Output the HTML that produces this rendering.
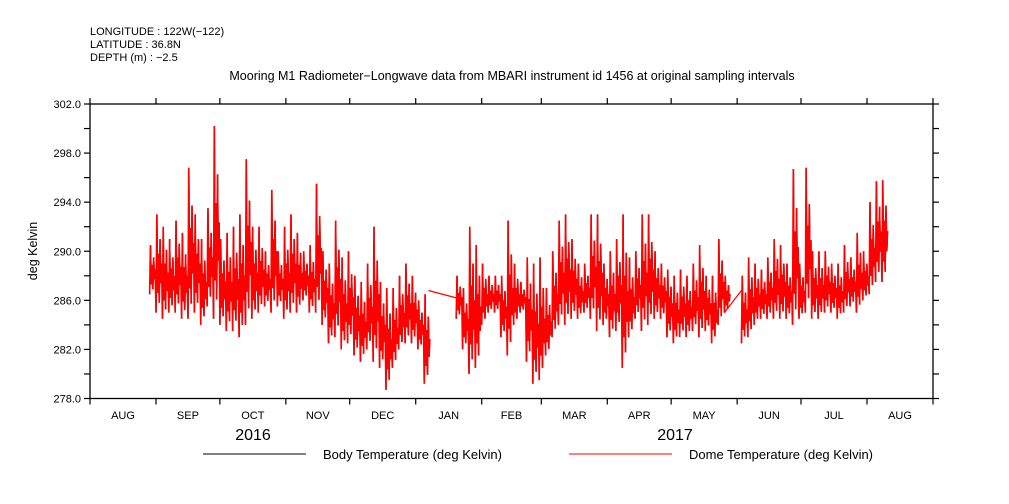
<!DOCTYPE html>
<html><head><meta charset="utf-8"><style>
body{margin:0;background:#fff;}
svg{display:block;font-family:"Liberation Sans",sans-serif;}
</style></head><body>
<svg id="chart" width="1009" height="504">
<text x="90" y="35" font-size="11">LONGITUDE : 122W(−122)</text>
<text x="90" y="48" font-size="11">LATITUDE : 36.8N</text>
<text x="90" y="61" font-size="11">DEPTH (m) : −2.5</text>
<text x="512" y="80" font-size="12.5" text-anchor="middle">Mooring M1 Radiometer−Longwave data from MBARI instrument id 1456 at original sampling intervals</text>
<text transform="translate(37,251) rotate(-90)" font-size="12.5" text-anchor="middle">deg Kelvin</text>
<g id="axes"></g>
<g id="series"></g>
<rect x="90" y="104" width="843" height="294.5" fill="none" stroke="#000" stroke-width="1.3"/>
<text x="253" y="440" font-size="16" text-anchor="middle">2016</text>
<text x="675" y="440" font-size="16" text-anchor="middle">2017</text>
<line x1="203" y1="454" x2="306" y2="454" stroke="#000" stroke-width="1"/>
<text x="323" y="459" font-size="13">Body Temperature (deg Kelvin)</text>
<line x1="569" y1="454" x2="672" y2="454" stroke="#f00" stroke-width="1"/>
<text x="689" y="459" font-size="13">Dome Temperature (deg Kelvin)</text>
</svg>
<script>
const yTicks=[278,280,282,284,286,288,290,292,294,296,298,300,302];
const monthLabels=["AUG","SEP","OCT","NOV","DEC","JAN","FEB","MAR","APR","MAY","JUN","JUL","AUG"];
const monthStarts=[0,31,61,92,122,153,184,212,243,273,304,334,365,396];
const seg1Days=[28,31,34,37,40,43,46,49,52,55,58,61,64,67,70,73,76,79,82,85,88,91,94,97,100,103,106,109,112,115,118,121,124,127,130,133,136,139,142,145,148,151,154,157];
const seg1Hi=[290.5,293,292,291,292.5,291.5,296.8,293,291,293.5,300.2,291,291.5,292,293,297.5,292,292,290,295,290,292,293,291.5,290,290.5,295.5,290,289,292.5,289.5,290,288,287.5,289,292,287.5,287,287,288,289,288,286,286.5];
const seg1Lo=[286.5,285,284.5,285,285,284.5,284.5,285,284,285.5,284.5,284,283.5,283.5,283,284,284.5,285,285.5,285,285.5,284.5,285,285,286,285,285,284,282.5,283,282,282.5,281.5,281,282,281,280.5,278.7,280.5,282,282.5,282.5,282,279.2];
const seg2Days=[172,175,178,181,184,187,190,193,196,199,202,205,208,211,214,217,220,223,226,229,232,235,238,241,244,247,250,253,256,259,262,265,268,271,274,277,280,283,286,289,292,295,298];
const seg2Hi=[288,287,292,290.5,289,288,288,288,292.5,289,287.5,289.5,289,289.5,287,290,292.5,293,291,289,289,293,293,289,290,291,293,289.5,290,293,293,290,289,288.5,288,288.5,288,289,290.5,288,288,291,288];
const seg2Lo=[284.5,282,280,280.5,284,285,285,283,281.5,284,285,281,279.2,279.5,281.5,283,284,284,284.5,284.5,285,284.5,283.5,284,283,283.5,280.5,283,284.5,283.5,284,284.5,284.5,283,282.5,283,283,283.5,283,283.5,282.5,284,285];
const seg3Days=[306,309,312,315,318,321,324,327,330,333,336,339,342,345,348,351,354,357,360,363,366,369,372];
const seg3Hi=[288,289.5,289,288.5,289.5,291,290.5,289,296.7,289,296.8,290,290,290,289,289,290.5,289.5,291.5,290,294,295.7,295.8];
const seg3Lo=[282.5,283,284,284.5,284.5,284.5,284.5,284.5,284,284.5,285,284.5,284.5,285,285,284.5,285,285.5,285,286,286.5,287.5,287.5];
const gapLinks=[[159,286.8,172,286.2],[298,285,306,286.8]];

const NS="http://www.w3.org/2000/svg";
const X0=90,X1=933,Y0=398.5,Y1=104,DMAX=396,TMIN=278,TMAX=302;
const xS=d=>X0+d*(X1-X0)/DMAX;
const yS=t=>Y0-(t-TMIN)*(Y0-Y1)/(TMAX-TMIN);
function mk(tag,attrs,parent){const e=document.createElementNS(NS,tag);for(const k in attrs)e.setAttribute(k,attrs[k]);parent.appendChild(e);return e;}
const axes=document.getElementById('axes');
yTicks.forEach((t,i)=>{
  const y=yS(t);
  const l=mk('line',{x1:X0-6,y1:y,x2:X0,y2:y,stroke:'#000','stroke-width':1.2},axes);
  
  
  const r=mk('line',{x1:X1,y1:y,x2:X1+6,y2:y,stroke:'#000','stroke-width':1.2},axes);
  
  
  if(i%2===0){
    const tx=mk('text',{x:X0-9,y:y+4,'font-size':11,'text-anchor':'end'},axes);
    tx.textContent=t.toFixed(1);
    
    
  }
});
monthStarts.forEach((d,i)=>{
  const x=xS(d);
  const b=mk('line',{x1:x,y1:Y0,x2:x,y2:Y0+6,stroke:'#000','stroke-width':1.2},axes);
  
  
  const t=mk('line',{x1:x,y1:Y1-6,x2:x,y2:Y1,stroke:'#000','stroke-width':1.2},axes);
  
  
  if(i<monthLabels.length){
    const tx=mk('text',{x:(x+xS(monthStarts[i+1]))/2,y:419,'font-size':11,'text-anchor':'middle'},axes);
    tx.textContent=monthLabels[i];
    
    
  }
});
const series=document.getElementById('series');
const fracs=[0,1,0.2,0.6,0.1,0.75,0.3,0.5];
function drawSeg(days,hi,lo,color,off,w,name){
  const pts=[];
  for(let i=0;i<days.length;i++){
    const n=fracs.length;
    for(let k=0;k<n;k++){
      const d=days[i]+k*3/n+off;
      const v=lo[i]+fracs[k]*(hi[i]-lo[i]);
      pts.push(xS(d).toFixed(2)+','+yS(v).toFixed(2));
    }
  }
  const p=mk('polyline',{points:pts.join(' '),fill:'none',stroke:color,'stroke-width':w,'stroke-linejoin':'miter'},series);
  
  
}
const segs=[[seg1Days,seg1Hi,seg1Lo],[seg2Days,seg2Hi,seg2Lo],[seg3Days,seg3Hi,seg3Lo]];
segs.forEach(s=>{
  drawSeg(s[0],s[1],s[2],'#000',0.15,1,'body-temperature-line');
});
segs.forEach(s=>{
  drawSeg(s[0],s[1],s[2],'#f00',0,1.6,'dome-temperature-line');
});
gapLinks.forEach(g=>{
  const l=mk('line',{x1:xS(g[0]),y1:yS(g[1]),x2:xS(g[2]),y2:yS(g[3]),stroke:'#f00','stroke-width':1.2},series);
  
  
});
</script>
</body></html>
